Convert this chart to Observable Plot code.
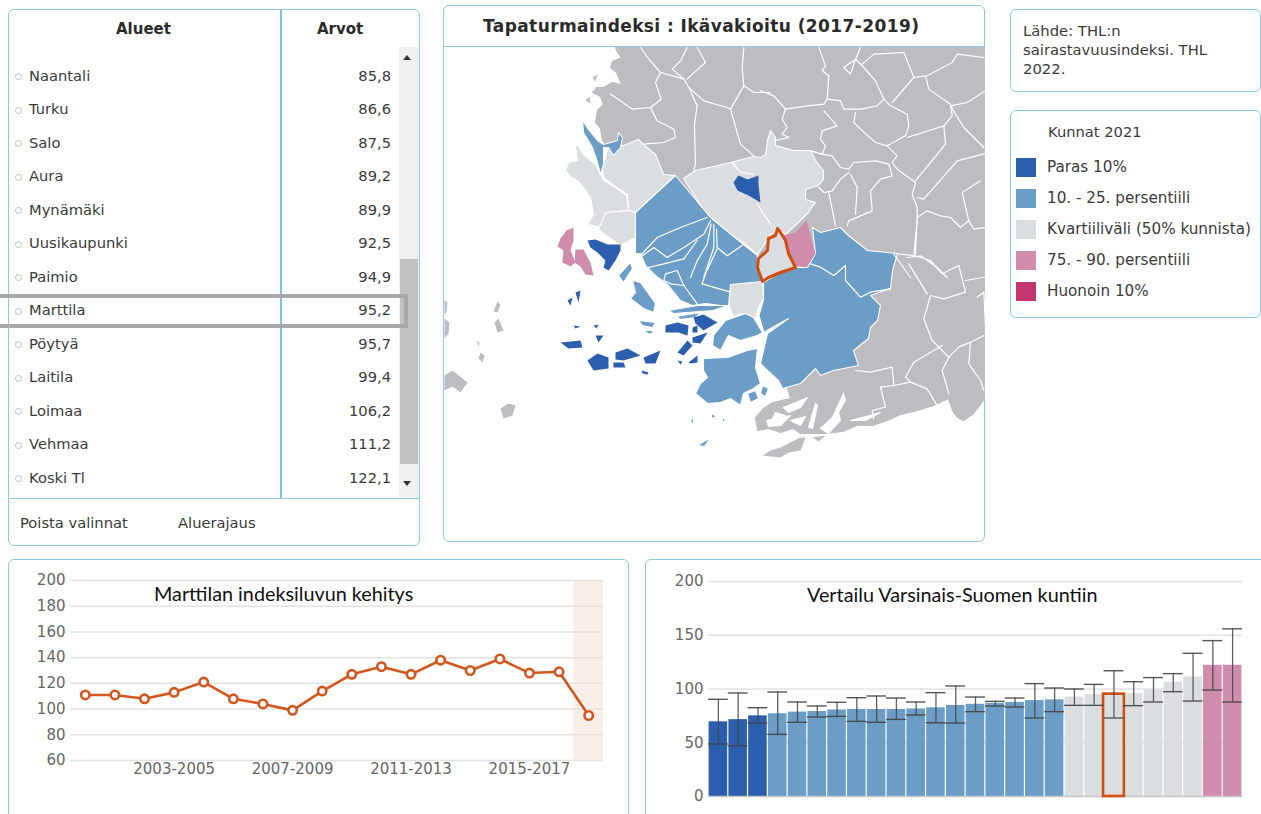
<!DOCTYPE html>
<html><head><meta charset="utf-8">
<script src="https://cdn.jsdelivr.net/npm/d3@7"></script>
<script src="https://cdn.jsdelivr.net/npm/@observablehq/plot@0.6"></script>
<style>
html,body{margin:0;padding:0;background:#fff}
#page{position:relative;width:1261px;height:814px;overflow:hidden;font-family:"DejaVu Sans",sans-serif;color:#3a3a3a}
.abs{position:absolute}
.panel{position:absolute;border:1px solid #8ccbe4;border-radius:6px;box-sizing:border-box;background:#fff}
.head{position:absolute;font-weight:bold;font-size:15px;color:#2b2b2b;white-space:nowrap}
.cap{position:absolute;font-family:Lato,sans-serif;font-size:19.8px;color:#111;white-space:nowrap}
svg{position:absolute;overflow:hidden;background:transparent}
.t{position:absolute;font-size:14.7px;white-space:nowrap;line-height:18px}
</style></head><body><div id="page"></div>
<script>
// ---------- table ----------
const tableNames = ["Naantali","Turku","Salo","Aura","Mynämäki","Uusikaupunki","Paimio","Marttila","Pöytyä","Laitila","Loimaa","Vehmaa","Koski Tl"];
const tableValues = ["85,8","86,6","87,5","89,2","89,9","92,5","94,9","95,2","95,7","99,4","106,2","111,2","122,1"];
// ---------- legend ----------
const legendLabels = ["Paras 10%","10. - 25. persentiili","Kvartiiliväli (50% kunnista)","75. - 90. persentiili","Huonoin 10%"];
const legendColors = ["#2b5fae","#6b9dc6","#dbdee1","#d08cab","#c2356f"];
// ---------- line chart ----------
const periods = ["2000-2002","2001-2003","2002-2004","2003-2005","2004-2006","2005-2007","2006-2008","2007-2009","2008-2010","2009-2011","2010-2012","2011-2013","2012-2014","2013-2015","2014-2016","2015-2017","2016-2018","2017-2019"];
const indexValues = [111,111,108,113,121,108,104,99,114,127,133,127,138,130,139,128,129,95];
const periodTicks = ["2003-2005","2007-2009","2011-2013","2015-2017"];
// ---------- bar chart ----------
const barValues = [69.5,71.5,75,77,78.5,79,80.5,81,81,81,81.5,82.5,84.7,85.8,86.6,87.5,89.2,89.9,92.5,94.9,95.2,95.7,99.4,106.2,111.2,122,122.1];
const barLow  = [48.8,47.2,68.3,57.8,69,73.9,74.5,69.9,69,71.7,75.8,68.6,68.3,78.9,84.2,83.2,73,78.9,84.8,84.8,73,84.5,87.9,97.5,88.8,99,87.9];
const barHigh = [90.4,96.3,82.6,97.2,87.9,84.2,87.6,91.9,93.5,91.6,87.9,96.6,102.8,92.5,88.5,91.6,105,100.9,100,104.3,117,106.8,110.6,114.3,133.2,145,156];
const barClass = ["Paras 10%","Paras 10%","Paras 10%",...Array(15).fill("10. - 25. persentiili"),...Array(7).fill("Kvartiiliväli (50% kunnista)"),"75. - 90. persentiili","75. - 90. persentiili"];
const markedBar = 20;
// ---------- map (outlines, in map units) ----------
const mapLand = [[615,47],[617,52],[621,57],[612,61],[610,67],[616,72],[621,84],[612,82],[603,87],[596,87],[592,92],[600,96],[603,104],[597,110],[595,122],[600,128],[602,140],[640,190],[700,230],[770,290],[775,350],[785,380],[790,398],[772,402],[763,408],[755,417],[757,430],[768,428],[780,432],[793,428],[800,433],[825,433],[842,431],[857,425],[872,425],[887,420],[900,414],[917,410],[933,405],[948,398],[952,410],[957,417],[963,420],[972,414],[977,408],[985,397],[985,47]];
const mapIslandsGrey = [
 [[762,455],[770,450],[780,447],[792,441],[800,437],[805,437],[802,445],[800,450],[788,452],[780,457],[770,456]],
 [[493,311],[497,301],[500,304],[497,312]],[[494,322],[498,318],[503,330],[497,332]],
 [[444,300],[447,302],[446,312],[444,314]],[[444,318],[449,322],[448,333],[444,338]],
 [[444,375],[452,370],[467,382],[460,392],[452,386],[444,390]],[[480,352],[484,355],[482,362],[478,358]],
 [[500,408],[508,403],[515,405],[512,415],[503,418]],[[476,340],[479,342],[478,346]],[[812,437],[825,435],[818,441]],[[585,100],[589,96],[590,103]],[[592,77],[597,74],[595,81]]
];
const mapInlets = [
 [[843,393],[832,417],[820,428],[828,433],[840,420],[838,412],[845,400]],
 [[815,403],[808,427],[812,428],[817,405]],
 [[783,407],[807,397],[800,407],[788,412]],
 [[766,420],[790,415],[780,425],[768,426]],
 [[850,420],[880,412],[865,420]],
 [[775,412],[785,415],[772,418]],[[790,420],[805,416],[800,425]]
];
const mapLight = [
 [[623,145],[638,139],[643,144],[655,154],[663,174],[675,175],[635,212],[628,210],[627,194],[612,184],[603,177],[602,167],[605,157],[608,144]],
 [[577,144],[583,154],[595,164],[600,174],[603,180],[615,187],[626,195],[628,210],[605,212],[600,227],[593,225],[587,224],[593,214],[590,197],[583,187],[577,180],[571,177],[565,170],[568,162],[577,160],[575,147]],
 [[605,212],[628,210],[635,212],[635,237],[620,245],[610,238],[598,229]],
 [[683,178],[695,170],[730,162],[753,156],[760,157],[765,154],[767,140],[770,130],[775,137],[775,145],[793,150],[810,150],[815,160],[823,170],[823,179],[818,185],[805,189],[805,199],[815,202],[808,212],[803,217],[785,234],[777,229],[770,235],[757,254],[743,242],[717,227],[708,217]],
 [[728,283],[743,270],[762,282],[763,298],[758,307],[755,317],[740,313],[733,317],[728,303]],
 [[777,228],[780,232],[785,240],[788,253],[795,267],[780,272],[768,277],[762,281],[757,267],[758,258],[767,250],[768,238],[775,235]]
];
const mapBlue = [
 [[812,227],[820,232],[840,227],[848,235],[867,250],[897,253],[892,270],[890,288],[870,295],[880,305],[877,320],[870,327],[868,338],[853,350],[858,365],[833,370],[820,375],[815,368],[800,383],[782,388],[778,380],[767,370],[760,363],[763,350],[767,333],[788,318],[770,328],[763,332],[758,315],[763,298],[763,282],[780,272],[795,267],[807,267],[815,253]],
 [[675,175],[710,217],[743,244],[757,255],[757,267],[762,281],[730,284],[728,306],[705,303],[692,305],[680,300],[668,285],[655,275],[645,265],[640,253],[635,253],[635,212]],
 [[632,280],[640,282],[655,303],[653,312],[643,308],[630,298],[635,292]],
 [[618,275],[630,262],[632,268],[623,282]],
 [[668,310],[697,305],[727,305],[713,310],[673,313]],
 [[676,316],[700,312],[695,317],[680,319]],
 [[638,320],[655,322],[652,327],[642,325]],[[642,330],[654,330],[650,334]],
 [[713,335],[725,320],[745,313],[753,317],[762,332],[757,335],[740,340],[728,335],[720,350],[712,345]],
 [[703,358],[727,357],[747,350],[757,348],[755,367],[760,383],[753,388],[743,393],[740,405],[730,398],[720,402],[707,403],[695,393],[700,383],[707,377],[703,370]],
 [[582,120],[588,129],[597,140],[603,144],[617,140],[618,132],[622,137],[620,147],[613,155],[608,147],[603,147],[603,164],[600,174],[597,162],[592,147],[583,132]],
 [[690,420],[693,417],[693,425]],[[711,413],[716,416],[711,418]],[[722,416],[725,420],[722,422]],[[697,445],[710,437],[704,446]],
 [[747,393],[755,390],[758,398],[750,402]],[[762,385],[768,388],[765,396],[760,393]]
];
const mapDark = [
 [[733,182],[738,175],[747,179],[758,175],[758,184],[760,202],[748,195],[737,190]],
 [[587,240],[595,239],[607,244],[620,244],[620,250],[615,260],[608,270],[603,267],[605,260],[597,252],[590,247]],
 [[587,360],[597,353],[608,357],[608,368],[593,370]],[[615,352],[627,348],[640,355],[623,360],[615,359]],
 [[613,362],[623,362],[625,367],[613,367]],[[643,357],[660,350],[655,363],[645,363]],
 [[665,325],[677,322],[688,325],[687,335],[678,332],[665,332]],[[677,352],[687,340],[692,345],[683,355]],
 [[693,317],[703,314],[717,322],[703,330],[695,323]],[[692,337],[707,332],[700,343],[692,342]],
 [[688,362],[697,355],[697,362],[690,363]],[[560,342],[580,340],[582,347],[568,348]],
 [[595,335],[603,335],[598,342]],[[573,325],[580,326],[575,328]],[[567,300],[572,297],[570,305]],
 [[575,292],[580,290],[578,302]],[[641,370],[648,372],[647,374],[642,373]],[[692,327],[697,325],[697,332],[692,332]],
 [[593,325],[598,324],[596,328]],[[677,360],[682,361],[680,364]]
];
const mapPink = [
 [[806,220],[810,235],[815,253],[806,267],[795,265],[787,250],[783,235],[795,232]],
 [[560,238],[566,230],[573,227],[573,240],[570,250],[575,262],[570,266],[562,262],[563,250],[557,246]],
 [[575,249],[583,249],[590,262],[593,275],[585,274],[580,266],[574,262]]
];
const mapMarked = [[[777,228],[780,232],[785,240],[788,253],[795,267],[780,272],[768,277],[762,281],[757,267],[758,258],[767,250],[768,238],[775,235]]];
// border runs, each sheet = [originX, originY, runs in thirds of a map unit]
const borderSheets = [
 [540,47,[
  [[300,0],[325,35],[360,75],[345,105],[362,155],[330,180],[275,185],[240,160],[210,140]],
  [[330,180],[350,220],[400,245],[405,270],[370,285],[310,290]],
  [[360,75],[430,95],[445,120],[490,160],[560,180],[570,185],[610,115],[605,60],[610,0]],
  [[445,120],[470,175],[462,230],[465,350],[460,368]],
  [[440,0],[420,40],[395,65],[430,95]],[[470,0],[495,45],[450,85],[440,95]],
  [[570,185],[600,290],[640,325]],[[610,115],[640,135],[690,135]],
  [[650,470],[690,530]],[[575,345],[600,375],[640,380]],
  [[500,510],[420,540],[350,570],[285,640]],
  [[510,520],[490,560],[430,600],[380,630],[340,600],[285,640]],
  [[512,530],[500,590],[470,640],[450,690]],[[520,530],[520,600],[490,690]],
  [[528,545],[530,600],[560,625],[610,590]]
 ]],
 [760,47,[
  [[175,0],[195,55],[185,70],[205,85],[200,155],[240,160],[250,185],[300,185],[350,175],[370,155],[390,175],[440,200],[445,235],[435,265],[380,295]],
  [[0,130],[40,145],[75,185],[140,175],[190,170],[200,155]],
  [[75,185],[65,215],[80,240],[65,260],[85,270],[40,280]],
  [[190,190],[230,235],[185,250],[180,275],[195,295],[185,320],[150,310]],
  [[185,320],[215,325],[240,360],[265,365],[280,345],[345,340],[385,350],[395,385],[360,395],[330,430],[335,490],[265,520],[260,535]],
  [[285,195],[280,225],[300,245],[345,285],[380,295],[410,325],[395,345],[410,365],[465,405],[455,440],[470,480],[470,510],[465,620]],
  [[285,35],[250,60],[270,80],[285,35],[310,60],[345,100],[370,155]],
  [[285,35],[300,0]],[[305,50],[340,20],[430,15],[460,90],[395,165]],
  [[460,90],[495,85],[505,125],[570,170],[575,205],[550,235],[440,270]],
  [[570,175],[620,165],[675,130]],[[570,175],[610,240],[670,300]],
  [[550,235],[555,290],[465,400]],[[470,450],[490,455],[590,340],[675,318]],
  [[470,510],[500,490],[540,505],[570,510],[600,540],[625,520],[605,435],[660,400]],
  [[625,520],[640,545],[675,540]],[[500,85],[575,45],[590,20],[670,30]],
  [[265,375],[240,395],[215,430],[190,435],[175,420]],
  [[205,435],[220,510],[225,535]],[[270,380],[290,420],[285,500]],
  [[440,630],[480,625],[530,660],[560,690]],[[400,620],[450,690]]
 ]],
 [700,220,[
  [[590,100],[640,105],[650,0]],
  [[640,105],[690,120],[725,160],[775,135],[795,215],[730,235],[690,225],[670,295],[695,360],[745,410]],
  [[625,130],[680,220]],[[795,180],[855,170]],
  [[745,410],[775,380],[810,365],[850,345]],
  [[725,375],[640,425],[615,470],[630,485],[580,495],[575,440],[510,455],[465,450]],
  [[745,410],[725,450],[745,520]],
  [[580,495],[540,500],[555,560],[515,570],[520,595]],
  [[630,485],[680,505],[710,555]],[[810,365],[805,430],[840,480],[850,510]],
  [[830,230],[850,215],[855,320]],
  [[330,130],[360,140],[400,165],[435,135],[435,180],[480,230],[510,215],[570,205]],
  [[175,285],[190,335]],[[190,235],[175,285]]
 ]],
 [540,220,[
  [[375,160],[410,150],[430,195],[390,190],[370,180],[375,160]],
  [[285,150],[370,130],[430,115]],[[430,195],[470,250]],
  [[485,190],[570,215]],[[530,85],[495,160],[485,190]],[[430,115],[470,60]]
 ]]
];
const borderRuns = borderSheets.flatMap(([ox,oy,runs]) => runs.map(r => r.map(([a,b]) => [ox+a/3, oy+b/3])));

// ---------- helpers ----------
const page = document.getElementById("page");
function el(cls, css, text){const d=document.createElement("div");d.className=cls;Object.assign(d.style,css);if(text!=null)d.textContent=text;page.appendChild(d);return d;}
function box(x,y,w,h,extra){return el("panel",Object.assign({left:x+"px",top:y+"px",width:w+"px",height:h+"px"},extra||{}));}
function place(svg,x,y){svg.style.left=x+"px";svg.style.top=y+"px";page.appendChild(svg);}
const rows = (rings, close=true) => rings.flatMap((r,id)=> (close?[...r,r[0]]:r).map(([x,y])=>({id,x,y})));
const shape = (rings, fill, o={}) => Plot.line(rows(rings),{x:"x",y:"y",z:"id",fill,stroke:"#fff",strokeWidth:1.1,curve:"linear",...o});

// ---------- panels ----------
box(8,9,412,537);box(443,5,542,537);box(1010,9,251,83);box(1010,110,251,208);
box(8,559,621,290);box(645,559,660,290);
el("abs",{left:"280px",top:"9px",width:"2px",height:"489px",background:"#7cc3e2"});
el("abs",{left:"8px",top:"498px",width:"412px",height:"1px",background:"#8ccbe4"});
el("abs",{left:"444px",top:"46px",width:"540px",height:"1px",background:"#8ccbe4"});
el("head",{left:"116px",top:"20px"},"Alueet");
el("head",{left:"317px",top:"20px"},"Arvot");
el("head",{left:"483px",top:"16px",fontSize:"17px",letterSpacing:"0.4px"},"Tapaturmaindeksi : Ikävakioitu (2017-2019)");

// ---------- map ----------
const mapSvg = Plot.plot({
  width:541,height:495,margin:0,
  x:{domain:[444,985],range:[0,541],axis:null},
  y:{domain:[47,542],range:[0,495],axis:null},
  marks:[
    shape([mapLand],"#bdbcc1",{stroke:"#bdbcc1"}),
    shape(mapIslandsGrey,"#bdbcc1",{stroke:"none"}),
    shape(mapInlets,"#fff"),
    shape(mapLight,"#dbdee1"),
    shape(mapBlue,"#6b9dc6"),
    shape(mapDark,"#2b5fae",{stroke:"none"}),
    shape(mapPink,"#d08cab",{stroke:"none"}),
    Plot.line(rows(borderRuns,false),{x:"x",y:"y",z:"id",stroke:"#fff",strokeWidth:1.2}),
    shape(mapMarked,"none",{stroke:"#cf4f11",strokeWidth:3,strokeLinejoin:"round"})
  ]
});
place(mapSvg,444,47);

// ---------- table rows ----------
const list = el("abs",{left:"9px",top:"47px",width:"390px",height:"451px",overflow:"hidden"});
tableNames.forEach((n,i)=>{
  const cy = 76 + i*33.5 - 47;
  const c=document.createElement("div");
  Object.assign(c.style,{position:"absolute",left:"5.5px",top:(cy-3)+"px",width:"7px",height:"7px",border:"1px solid #bdbdbd",borderRadius:"50%",boxSizing:"border-box",background:"#fff"});
  list.appendChild(c);
  const a=document.createElement("div");a.className="t";a.textContent=n;
  Object.assign(a.style,{left:"20px",top:(cy-9.5)+"px"});list.appendChild(a);
  const b=document.createElement("div");b.className="t";b.textContent=tableValues[i];
  Object.assign(b.style,{right:"8px",top:(cy-9.5)+"px"});list.appendChild(b);
});
el("abs",{left:"399px",top:"47px",width:"20px",height:"451px",background:"#f1f1f1"});
el("abs",{left:"400px",top:"259px",width:"18px",height:"205px",background:"#c1c1c1"});
el("abs",{left:"403px",top:"55px",width:0,height:0,borderLeft:"4px solid transparent",borderRight:"4px solid transparent",borderBottom:"5px solid #333"});
el("abs",{left:"403px",top:"481px",width:0,height:0,borderLeft:"4px solid transparent",borderRight:"4px solid transparent",borderTop:"5px solid #333"});
el("abs",{left:"-4px",top:"294px",width:"404px",height:"26px",border:"4px solid #a8a8a8"});
el("t",{left:"20px",top:"514px"},"Poista valinnat");
el("t",{left:"178px",top:"514px"},"Aluerajaus");

// ---------- source + legend ----------
el("t",{left:"1023px",top:"21px",lineHeight:"19px",fontSize:"14.8px",whiteSpace:"pre"},"Lähde: THL:n\nsairastavuusindeksi. THL\n2022.");
el("t",{left:"1048px",top:"123px"},"Kunnat 2021");
legendLabels.forEach((l,i)=>{
  const y=167+i*31;
  el("abs",{left:"1016px",top:(y-9.5)+"px",width:"20px",height:"19px",background:legendColors[i]});
  el("t",{left:"1047px",top:(y-9)+"px",fontSize:"15.2px"},l);
});

// ---------- line chart ----------
const lineData = periods.map((p,i)=>({p,v:indexValues[i]}));
const axisFont = {fontSize:15,fill:"#666",fontFamily:"DejaVu Sans"};
const lineSvg = Plot.plot({
  width:630,height:254,marginLeft:70,marginRight:27,marginTop:20,marginBottom:54,
  style:{background:"transparent",overflow:"hidden"},
  x:{type:"band",domain:periods,padding:0,round:false,axis:null},
  y:{domain:[60,200],range:[200,20],axis:null},
  marks:[
    Plot.barY(lineData.slice(-1),{x:"p",y1:60,y2:200,fill:"#f8efe9"}),
    Plot.ruleY(d3.range(60,201,20),{stroke:"#e3e3e3",strokeWidth:1.5}),
    Plot.axisY({ticks:d3.range(60,201,20),tickSize:0,tickPadding:5,label:null,...axisFont}),
    Plot.axisX({ticks:periodTicks,tickSize:0,tickPadding:3,label:null,...axisFont,fontSize:15}),
    Plot.line(lineData,{x:"p",y:"v",stroke:"#d2571d",strokeWidth:2.6}),
    Plot.dot(lineData,{x:"p",y:"v",r:4.2,fill:"#fff",stroke:"#d2571d",strokeWidth:2.6})
  ]
});
place(lineSvg,0,560);
el("cap",{left:"154px",top:"581px"},"Marttilan indeksiluvun kehitys");

// ---------- bar chart ----------
const barData = barValues.map((v,i)=>({i,v,low:barLow[i],high:barHigh[i],c:barClass[i]}));
const barSvg = Plot.plot({
  width:616,height:254,marginLeft:63,marginRight:19,marginTop:21,marginBottom:18,
  style:{background:"transparent",overflow:"hidden"},
  x:{type:"band",domain:d3.range(barValues.length),padding:0,round:false,axis:null},
  y:{domain:[0,200],range:[236,21],axis:null},
  color:{domain:legendLabels,range:legendColors},
  marks:[
    Plot.ruleY([50,100,150,200],{stroke:"#e3e3e3",strokeWidth:1.3}),
    Plot.axisY({ticks:[0,50,100,150,200],tickSize:0,tickPadding:5,label:null,...axisFont}),
    Plot.barY(barData,{x:"i",y:"v",fill:"c",insetLeft:0.6,insetRight:0.6}),
    Plot.ruleY([0],{stroke:"#c8c8c8",strokeWidth:1.5}),
    Plot.barY(barData.filter(d=>d.i===markedBar),{x:"i",y:"v",fill:"none",stroke:"#cf4f11",strokeWidth:2.6,insetLeft:-0.5,insetRight:-0.5}),
    Plot.ruleX(barData,{x:"i",y1:"low",y2:"high",stroke:"#444",strokeWidth:1.3,strokeOpacity:0.85}),
    Plot.tickY(barData,{x:"i",y:"low",stroke:"#444",strokeWidth:1.4,strokeOpacity:0.9}),
    Plot.tickY(barData,{x:"i",y:"high",stroke:"#444",strokeWidth:1.4,strokeOpacity:0.9})
  ]
});
place(barSvg,645,560);
el("cap",{left:"807px",top:"582px"},"Vertailu Varsinais-Suomen kuntiin");
</script></body></html>
